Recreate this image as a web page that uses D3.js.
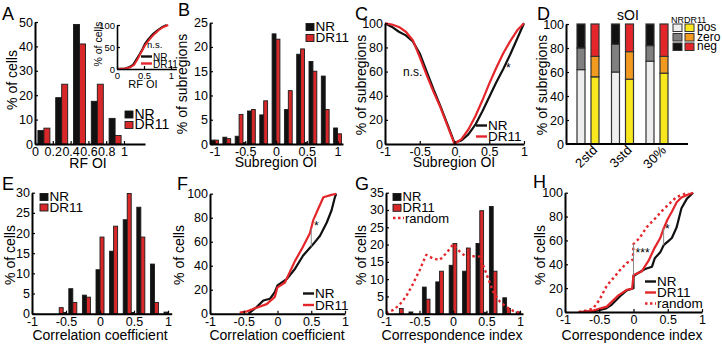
<!DOCTYPE html>
<html>
<head>
<meta charset="utf-8">
<script src="https://cdn.jsdelivr.net/npm/d3@7"></script>
<style>
  body { margin: 0; background: #fff; }
  svg { display: block; font-family: "Liberation Sans", Arial, sans-serif; }
</style>
</head>
<body>
<div id="chart"></div>
<script>
// A: RF OI histogram + inset cdf
const rfBins = [0.1, 0.3, 0.5, 0.7, 0.9];
const rfNR = [5.5, 19, 49, 17.5, 10.5];
const rfDR = [6.5, 24.5, 41, 24.5, 3.5];
const rfCdfNRx = [0, 0.15, 0.22, 0.3, 0.36, 0.42, 0.47, 0.52, 0.58, 0.67, 0.75, 0.83, 0.92];
const rfCdfNRy = [0, 1, 4, 10, 22, 34, 45, 58, 68, 80, 88, 95, 100];
const rfCdfDRx = [0, 0.15, 0.25, 0.32, 0.38, 0.43, 0.48, 0.53, 0.6, 0.68, 0.77, 0.85, 0.95];
const rfCdfDRy = [0, 1, 4, 10, 22, 34, 45, 56, 67, 78, 88, 95, 100];

// B: subregion OI histogram
const soBins = [-1, -0.8, -0.6, -0.5, -0.4, -0.2, 0, 0.2, 0.4, 0.5, 0.6, 0.8, 1];
const soNR = [0.8, 1.4, 1.6, 0.3, 6.8, 6.0, 22.7, 7.1, 18.5, 0.3, 17, 14, 3.3];
const soDR = [0.8, 1.1, 6.1, 0, 7.1, 8.9, 21.6, 11, 19.6, 0, 15, 7.1, 2.1];

// C: subregion OI cumulative (folded)
const soCdfX = [-1, -0.9, -0.8, -0.7, -0.6, -0.5, -0.4, -0.3, -0.2, -0.1, 0, 0.1, 0.2, 0.3, 0.4, 0.5, 0.6, 0.7, 0.8, 0.9, 1];
const soCdfNR = [100, 97, 93, 90, 85, 75, 60, 45, 31, 16, 1, 3, 8, 16, 27, 39, 51, 62, 74, 87, 100];
const soCdfDR = [100, 99, 97, 93, 86, 72, 57, 43, 30, 15, 0, 4, 12, 23, 36, 50, 63, 75, 85, 94, 100];

// D: sOI classes
const sCats = ["2std", "3std", "30%"];
const sNRpos = [62, 60, 69], sNRzero = [18, 23, 13], sNRneg = [20, 17, 18];
const sDRpos = [56, 54, 59], sDRzero = [17, 23, 14], sDRneg = [27, 23, 27];

// E: correlation coefficient histogram
const ccBins = [-0.6, -0.5, -0.4, -0.2, 0, 0.2, 0.4, 0.5, 0.6, 0.8, 1];
const ccNR = [0, 0.3, 6.2, 4.6, 10.9, 15.5, 23.3, 0.3, 26.4, 12.3, 0.4];
const ccDR = [1.5, 0, 2.8, 4.1, 19, 21.7, 29.8, 0, 19, 2.8, 0];

// F: correlation coefficient cdf
const ccCdfNRx = [-0.43, -0.31, -0.21, -0.11, -0.04, 0, 0.14, 0.26, 0.38, 0.53, 0.63, 0.73, 0.8, 0.85, 0.87];
const ccCdfNRy = [0, 5.5, 11, 12.5, 18, 23.5, 29, 37.5, 48.5, 58, 65, 76, 86, 97, 100];
const ccCdfDRx = [-0.56, -0.45, -0.36, -0.16, -0.04, 0, 0.11, 0.26, 0.36, 0.48, 0.53, 0.6, 0.68, 0.8, 0.87];
const ccCdfDRy = [1, 2, 4, 8, 14, 22, 26, 44, 54, 67, 78, 87, 97, 99, 100];

// G: correspondence index histogram
const ciBins = [-0.8, -0.6, -0.4, -0.2, 0, 0.2, 0.4, 0.5, 0.6, 0.8, 1];
const ciNR = [0, 0.5, 7.7, 9.2, 14, 12.3, 20.3, 0.4, 31, 4.6, 0.5];
const ciDR = [1.5, 0, 4.2, 12.3, 20.3, 19, 29.8, 0, 12.3, 1.5, 0];
const ciRndX = [-1, -0.9, -0.8, -0.7, -0.6, -0.5, -0.4, -0.3, -0.2, -0.1, 0, 0.1, 0.2, 0.3, 0.4, 0.5, 0.6, 0.7, 0.8, 0.9, 1];
const ciRndY = [0.3, 1, 2.5, 5, 8.5, 12.5, 17, 16, 15.5, 17.5, 20, 18, 16.4, 16.6, 16.5, 11.5, 6.3, 3.5, 1.9, 0.8, 0.2];

// H: correspondence index cdf
const ciCdfNRx = [-0.75, -0.55, -0.4, -0.32, -0.2, -0.1, 0, 0, 0.05, 0.17, 0.27, 0.31, 0.39, 0.44, 0.5, 0.56, 0.63, 0.7, 0.78, 0.87];
const ciCdfNRy = [0, 1, 3, 6, 13, 18, 20, 30, 32, 36, 38, 45, 50, 56, 59, 62, 71, 87, 95, 100];
const ciCdfDRx = [-0.8, -0.6, -0.39, -0.22, -0.1, -0.02, 0, 0.12, 0.22, 0.31, 0.39, 0.44, 0.5, 0.56, 0.63, 0.7, 0.78, 0.87];
const ciCdfDRy = [0, 1, 4.5, 14, 18.5, 19.5, 31, 34, 43, 54, 62, 70, 78, 84, 92, 96, 98, 100];
const ciCdfRndx = [-0.8, -0.7, -0.59, -0.5, -0.39, -0.3, -0.2, -0.1, -0.01, 0, 0.09, 0.19, 0.31, 0.42, 0.51, 0.62, 0.7, 0.8];
const ciCdfRndy = [0, 1, 3, 10, 22, 28, 35, 41, 44, 57, 62, 71, 78, 85, 90, 96, 98, 100];

const BLACK = "#111", RED = "#d8282a", LRED = "#e4262b";

const svg = d3.select("#chart").append("svg").attr("width", 722).attr("height", 344);
svg.append("rect").attr("width", 722).attr("height", 344).attr("fill", "#fff");

function axes(x, y, xTicks, yTicks, fs = 12.5, lw = 2) {
  const fmt = d => String(d);
  const out = [];
  if (xTicks) {
    out.push(svg.append("g").attr("transform", `translate(0,${y.range()[0]})`)
      .call(d3.axisBottom(x).tickValues(xTicks).tickSize(-3).tickSizeOuter(0).tickPadding(3).tickFormat(fmt)));
  }
  out.push(svg.append("g").attr("transform", `translate(${x.range()[0]},0)`)
    .call(d3.axisLeft(y).tickValues(yTicks).tickSize(-3).tickSizeOuter(0).tickPadding(2).tickFormat(fmt)));
  out.forEach(g => {
    g.attr("font-family", null).attr("font-size", fs);
    g.select(".domain").attr("stroke", "#000").attr("stroke-width", lw);
    g.selectAll(".tick line").attr("stroke", "#000").attr("stroke-width", 1.2);
    g.selectAll(".tick text").attr("fill", "#000");
  });
}

function text(x, y, t, fs, anchor = "middle", rot = 0) {
  return svg.append("text")
    .attr("transform", `translate(${x},${y}) rotate(${rot})`)
    .attr("text-anchor", anchor).attr("font-size", fs).attr("fill", "#000").text(t);
}

function bars(x, y, bins, nr, dr, w) {
  const g = svg.append("g").attr("stroke", "#1a1a1a").attr("stroke-width", 0.9);
  [[nr, BLACK, -w], [dr, RED, 0]].forEach(([vals, col, off]) => {
    g.selectAll(null).data(bins.map((b, i) => [b, vals[i]]).filter(d => d[1] > 0)).join("rect")
      .attr("x", d => x(d[0]) + off).attr("y", d => y(d[1]))
      .attr("width", w).attr("height", d => y(0) - y(d[1]))
      .attr("fill", col);
  });
}

function curve(x, y, xs, ys, col, sw = 2.2, dash = null) {
  svg.append("path").datum(xs.map((v, i) => [v, ys[i]]))
    .attr("d", d3.line().x(d => x(d[0])).y(d => y(d[1])))
    .attr("fill", "none").attr("stroke", col).attr("stroke-width", sw)
    .attr("stroke-dasharray", dash).attr("stroke-linejoin", "round");
}

function legendBox(x, y, items, fs = 13.5, step = 10.5) {
  items.forEach(([lab, col], i) => {
    const yy = y + i * step;
    svg.append("rect").attr("x", x).attr("y", yy - 7.5).attr("width", 8).attr("height", 7)
      .attr("fill", col).attr("stroke", "#1a1a1a").attr("stroke-width", 0.9);
    text(x + 9.5, yy, lab, fs, "start");
  });
}

function legendLine(x, y, items, fs = 13.5, step = 11) {
  items.forEach(([lab, col, dash], i) => {
    const yy = y + i * step;
    svg.append("line").attr("x1", x).attr("x2", x + 11).attr("y1", yy - 4.5).attr("y2", yy - 4.5)
      .attr("stroke", col).attr("stroke-width", 2.4).attr("stroke-dasharray", dash || null);
    text(x + 12, yy, lab, fs, "start");
  });
}

function sig(x, y, xv, y0, y1) {
  svg.append("line").attr("x1", x(xv)).attr("x2", x(xv)).attr("y1", y(y0)).attr("y2", y(y1))
    .attr("stroke", "#888").attr("stroke-width", 1);
}

const AX = 14, LET = 18;

// ---------- A ----------
{
  const x = d3.scaleLinear().domain([0, 1.236]).range([35, 145]);
  const y = d3.scaleLinear().domain([0, 50]).range([144, 22]);
  bars(x, y, rfBins, rfNR, rfDR, 6);
  axes(x, y, [0, 0.2, 0.4, 0.6, 0.8, 1], [0, 10, 20, 30, 40, 50]);
  text(2, 20, "A", LET, "start");
  text(17, 80, "% of cells", AX, "middle", -90);
  text(88, 168, "RF OI", AX);
  legendBox(125, 118.5, [["NR", BLACK], ["DR11", RED]], 14, 10.5);

  // inset
  const xi = d3.scaleLinear().domain([0, 1.1]).range([117, 176.4]);
  const yi = d3.scaleLinear().domain([0, 100]).range([69, 25]);
  curve(xi, yi, rfCdfNRx, rfCdfNRy, BLACK, 2);
  curve(xi, yi, rfCdfDRx, rfCdfDRy, LRED, 2);
  axes(xi, yi, [0, 0.5, 1], [0, 50, 100], 9.5, 1.6);
  text(101.5, 44, "% of cells", 10.5, "middle", -90);
  text(143, 88, "RF OI", 11);
  text(147, 48, "n.s.", 9.5, "start");
  legendLine(141, 61, [["NR", BLACK], ["DR11", LRED]], 10, 7);
}

// ---------- B ----------
{
  const x = d3.scaleLinear().domain([-1.073, 1.089]).range([210, 343]);
  const y = d3.scaleLinear().domain([0, 25]).range([144, 22.7]);
  bars(x, y, soBins, soNR, soDR, 3.9);
  axes(x, y, [-1, -0.5, 0, 0.5, 1], [0, 5, 10, 15, 20, 25]);
  text(178, 16, "B", LET, "start");
  text(187, 84, "% of subregions", AX, "middle", -90);
  text(276, 167, "Subregion OI", AX);
  legendBox(306, 31, [["NR", BLACK], ["DR11", RED]], 13.5, 11);
}

// ---------- C ----------
{
  const x = d3.scaleLinear().domain([-1, 1]).range([385, 524]);
  const y = d3.scaleLinear().domain([0, 100]).range([144, 23.3]);
  curve(x, y, soCdfX, soCdfNR, BLACK);
  curve(x, y, soCdfX, soCdfDR, LRED);
  axes(x, y, [-1, -0.5, 0, 0.5, 1], [0, 20, 40, 60, 80, 100]);
  text(355, 20, "C", LET, "start");
  text(366, 85, "% of subregions", AX, "middle", -90);
  text(454, 167, "Subregion OI", AX);
  text(403, 76, "n.s.", 12, "start");
  text(x(0.74), y(60), "*", 12, "start");
  legendLine(476, 130, [["NR", BLACK], ["DR11", LRED]], 13.5, 11);
}

// ---------- D ----------
{
  const x = d3.scalePoint().domain(sCats).range([588, 657]);
  const xl = d3.scaleLinear().domain([0, 1]).range([566, 688]);
  const y = d3.scaleLinear().domain([0, 100]).range([144, 24]);
  const colsNR = ["#eeeeee", "#808080", "#111111"];
  const colsDR = ["#f8e71c", "#f29a1f", "#e4262b"];
  const stack = d3.stack().keys(["pos", "zero", "neg"]);
  const dNR = stack(sCats.map((c, i) => ({cat: c, pos: sNRpos[i], zero: sNRzero[i], neg: sNRneg[i]})));
  const dDR = stack(sCats.map((c, i) => ({cat: c, pos: sDRpos[i], zero: sDRzero[i], neg: sDRneg[i]})));
  [[dNR, colsNR, -11], [dDR, colsDR, 3]].forEach(([layers, cols, off]) => {
    layers.forEach((layer, k) => {
      svg.append("g").selectAll("rect").data(layer).join("rect")
        .attr("x", d => x(d.data.cat) + off).attr("width", 8)
        .attr("y", d => y(d[1])).attr("height", d => y(d[0]) - y(d[1]))
        .attr("fill", cols[k]).attr("stroke", "#333").attr("stroke-width", 1.2);
    });
  });
  axes(xl, y, null, [0, 20, 40, 60, 80, 100]);
  svg.append("line").attr("x1", xl(0)).attr("x2", xl(1)).attr("y1", y(0)).attr("y2", y(0))
    .attr("stroke", "#000").attr("stroke-width", 2);
  sCats.forEach(c => text(x(c) + 10, 151, c, 13, "end", -45));
  text(537, 20, "D", LET, "start");
  text(547, 85, "% of subregions", AX, "middle", -90);
  text(628, 20, "sOI", 14);
  text(671, 23, "NRDR11", 9, "start");
  ["pos", "zero", "neg"].forEach((lab, k) => {
    const yy = 24 + k * 9.5;
    svg.append("rect").attr("x", 673).attr("y", yy).attr("width", 9).attr("height", 7.5)
      .attr("fill", colsNR[k]).attr("stroke", "#333").attr("stroke-width", 1);
    svg.append("rect").attr("x", 685).attr("y", yy).attr("width", 9).attr("height", 7.5)
      .attr("fill", colsDR[k]).attr("stroke", "#333").attr("stroke-width", 1);
    text(697, yy + 7, lab, 12, "start");
  });
}

// ---------- E ----------
{
  const x = d3.scaleLinear().domain([-1, 1.054]).range([32, 171.7]);
  const y = d3.scaleLinear().domain([0, 30]).range([313.7, 192.7]);
  bars(x, y, ccBins, ccNR, ccDR, 4);
  axes(x, y, [-1, -0.5, 0, 0.5, 1], [0, 5, 10, 15, 20, 25, 30]);
  text(2, 190, "E", LET, "start");
  text(15, 255, "% of cells", AX, "middle", -90);
  text(100, 340, "Correlation coefficient", AX);
  legendBox(40, 201, [["NR", BLACK], ["DR11", RED]], 13.5, 10.5);
}

// ---------- F ----------
{
  const x = d3.scaleLinear().domain([-1, 1]).range([210, 345]);
  const y = d3.scaleLinear().domain([0, 100]).range([313.7, 193.7]);
  curve(x, y, ccCdfNRx, ccCdfNRy, BLACK);
  curve(x, y, ccCdfDRx, ccCdfDRy, LRED);
  sig(x, y, 0.5, 56, 71);
  text(x(0.54), y(70), "*", 12, "start");
  axes(x, y, [-1, -0.5, 0, 0.5, 1], [0, 20, 40, 60, 80, 100]);
  text(177, 190, "F", LET, "start");
  text(184, 255, "% of cells", AX, "middle", -90);
  text(277, 340, "Correlation coefficient", AX);
  legendLine(303, 298, [["NR", BLACK], ["DR11", LRED]], 13.5, 11.5);
}

// ---------- G ----------
{
  const x = d3.scaleLinear().domain([-1, 1.045]).range([386, 523]);
  const y = d3.scaleLinear().domain([0, 35]).range([313.7, 192.7]);
  bars(x, y, ciBins, ciNR, ciDR, 3.8);
  curve(x, y, ciRndX, ciRndY, LRED, 2.4, "2.5,3");
  axes(x, y, [-1, -0.5, 0, 0.5, 1], [0, 5, 10, 15, 20, 25, 30, 35]);
  text(355, 190, "G", LET, "start");
  text(366, 255, "% of cells", AX, "middle", -90);
  text(452, 340, "Correspondence index", AX);
  legendBox(393, 201, [["NR", BLACK], ["DR11", RED]], 13, 10.8);
  legendLine(393, 222.5, [["random", LRED, "2.5,2.5"]], 13);
}

// ---------- H ----------
{
  const x = d3.scaleLinear().domain([-1, 1]).range([565, 702]);
  const y = d3.scaleLinear().domain([0, 100]).range([312, 192.7]);
  curve(x, y, ciCdfRndx, ciCdfRndy, LRED, 2.4, "2.5,3");
  curve(x, y, ciCdfNRx, ciCdfNRy, BLACK);
  curve(x, y, ciCdfDRx, ciCdfDRy, LRED);
  sig(x, y, 0, 31, 57);
  text(x(0.03), y(46), "***", 12, "start");
  sig(x, y, 0.44, 56, 70);
  text(x(0.46), y(66), "*", 12, "start");
  axes(x, y, [-1, -0.5, 0, 0.5, 1], [0, 20, 40, 60, 80, 100]);
  text(533, 188, "H", LET, "start");
  text(545, 255, "% of cells", AX, "middle", -90);
  text(632, 340, "Correspondence index", AX);
  legendLine(645, 286, [["NR", BLACK], ["DR11", LRED], ["random", LRED, "2.5,2.5"]], 13.5, 11);
}
</script>
</body>
</html>
